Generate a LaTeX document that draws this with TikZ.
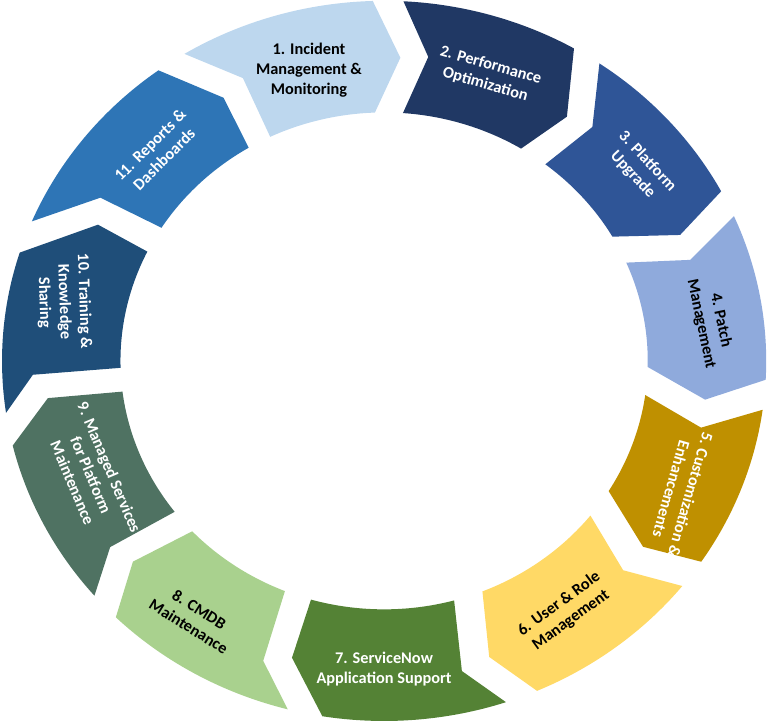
\documentclass[tikz,border=0pt]{standalone}
\usepackage{fontspec}
\setmainfont{Carlito}
\definecolor{seg1}{HTML}{BDD7EE}
\definecolor{seg2}{HTML}{203864}
\definecolor{seg3}{HTML}{2F5597}
\definecolor{seg4}{HTML}{8FAADC}
\definecolor{seg5}{HTML}{BF9000}
\definecolor{seg6}{HTML}{FFD966}
\definecolor{seg7}{HTML}{548235}
\definecolor{seg8}{HTML}{A9D18E}
\definecolor{seg9}{HTML}{4F7262}
\definecolor{seg10}{HTML}{1F4E79}
\definecolor{seg11}{HTML}{2E75B6}

\begin{document}
\begin{tikzpicture}[x=0.025cm,y=0.025cm]
\tikzset{
  ringpart/.style={fill=#1,draw=none},
  steplabel/.style={font=\bfseries\fontsize{11.6}{14.2}\selectfont,align=center,inner sep=0pt,text=#1}
}
\useasboundingbox (0,0) rectangle (768,727);
% ring of curved chevrons, clockwise from the top
\begin{scope}[shift={(9.6cm,9.15cm)},x=9.55cm,y=9.0cm]
\fill[ringpart=seg1] (121.5:1) arc[start angle=121.5,end angle=91.7,radius=1] -- (87.1:.843) -- (92.0:.69) arc[start angle=92.0,end angle=115.6,radius=.69] -- (115.2:.868) -- cycle;
\fill[ringpart=seg2] (87.1:1) arc[start angle=87.1,end angle=60.2,radius=1] -- (54.8:.83) -- (58.7:.69) arc[start angle=58.7,end angle=85.9,radius=.69] -- (82.2:.852) -- cycle;
\fill[ringpart=seg3] (55.7:1) arc[start angle=55.7,end angle=28.1,radius=1] -- (24.3:.85) -- (30.0:.69) arc[start angle=30.0,end angle=52.3,radius=.69] -- (50.0:.848) -- cycle;
\fill[ringpart=seg4] (23.7:1) arc[start angle=23.7,end angle=-3.0,radius=1] -- (-7.3:.847) -- (-1.4:.69) arc[start angle=-1.4,end angle=23.3,radius=.69] -- (19.3:.849) -- cycle;
\fill[ringpart=seg5] (-7.8:1) arc[start angle=-7.8,end angle=-33.9,radius=1] -- (-37.3:.852) -- (-31.6:.69) arc[start angle=-31.6,end angle=-7.9,radius=.69] -- (-12.6:.85) -- cycle;
\fill[ringpart=seg6] (-38.7:1) arc[start angle=-38.7,end angle=-66.4,radius=1] -- (-71.5:.867) -- (-68.1:.69) arc[start angle=-68.1,end angle=-38.5,radius=.69] -- (-42.9:.854) -- cycle;
\fill[ringpart=seg7] (-71.4:1) arc[start angle=-71.4,end angle=-99.3,radius=1] -- (-106.3:.859) -- (-106.1:.69) arc[start angle=-106.1,end angle=-74.6,radius=.69] -- (-76.7:.885) -- cycle;
\fill[ringpart=seg8] (-104.6:1) arc[start angle=-104.6,end angle=-134.6,radius=1] -- (-139.7:.862) -- (-136.7:.69) arc[start angle=-136.7,end angle=-112.1,radius=.69] -- (-110.8:.891) -- cycle;
\fill[ringpart=seg9] (-139.3:1) arc[start angle=-139.3,end angle=-166.4,radius=1] -- (-173.3:.886) -- (-172.9:.69) arc[start angle=-172.9,end angle=-142.6,radius=.69] -- (-144.2:.884) -- cycle;
\fill[ringpart=seg10] (188.3:1) arc[start angle=188.3,end angle=162.5,radius=1] -- (153.2:.839) -- (153.9:.69) arc[start angle=153.9,end angle=181.6,radius=.69] -- (182.4:.92) -- cycle;
\fill[ringpart=seg11] (157.2:1) arc[start angle=157.2,end angle=126.2,radius=1] -- (119.9:.843) -- (120.9:.69) arc[start angle=120.9,end angle=147.6,radius=.69] -- (148.6:.87) -- cycle;
\end{scope}
% step labels
\node[steplabel=black] (l1) at (309,657) {1. Incident\\Management \&\\Monitoring};
\node[steplabel=white,rotate=-16] (l2) at (488,652) {2. Performance\\Optimization};
\node[steplabel=white,rotate=-47] (l3) at (640,559) {3. Platform\\Upgrade};
\node[steplabel=black,rotate=-78] (l4) at (711,405) {4. Patch\\Management};
\node[steplabel=white,rotate=-106] (l5) at (681,235) {5. Customization \&\\Enhancements};
\node[steplabel=black,rotate=36] (l6) at (565,115) {6. User \& Role\\Management};
\node[steplabel=white] (l7) at (384,58) {7. ServiceNow\\Application Support};
\node[steplabel=black,rotate=-32] (l8) at (194,109) {8. CMDB\\Maintenance};
\node[steplabel=white,rotate=-67] (l9) at (91,252) {9. Managed Services\\for Platform\\Maintenance};
\node[steplabel=white,rotate=-88] (l10) at (64,425) {10. Training \&\\Knowledge\\Sharing};
\node[steplabel=white,rotate=45] (l11) at (157,575) {11. Reports \&\\Dashboards};
\end{tikzpicture}
\end{document}
